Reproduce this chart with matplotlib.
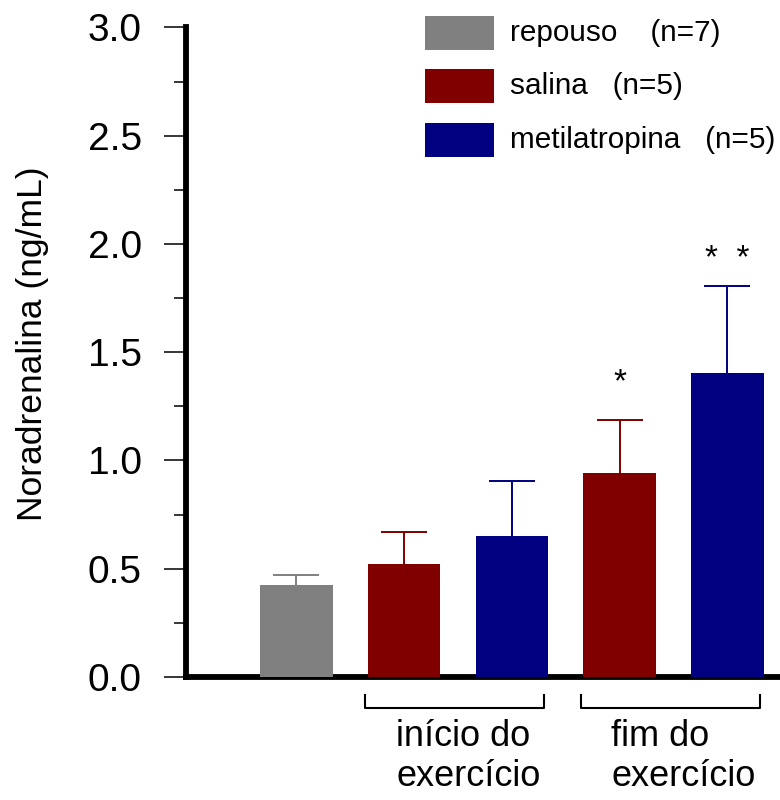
import numpy as np
import matplotlib
matplotlib.use('Agg')
import matplotlib.pyplot as plt
from matplotlib.patches import Rectangle
from matplotlib.ticker import MultipleLocator, FormatStrFormatter

# groups shown in the legend
groups = ['repouso', 'salina', 'metilatropina']
group_n = [7, 5, 5]
group_gap = ['    ', '   ', '   ']
group_colors = ['#808080', '#800000', '#000080']

# one entry per bar
bar_group = [0, 1, 2, 1, 2]
means = [0.425, 0.524, 0.652, 0.943, 1.405]
sems = [0.048, 0.145, 0.253, 0.245, 0.403]
stars = ['', '', '', '*', '*  *']
star_gap = [0, 0, 0, 0.10, 0.05]

phases = ['início do\nexercício', 'fim do\nexercício']
phase_bars = [(1, 2), (3, 4)]

plt.rcParams['font.family'] = ['Liberation Sans', 'DejaVu Sans']

W, H = 780, 800
fig = plt.figure(figsize=(W / 100, H / 100), dpi=100)
ax = fig.add_axes([186 / W, 1 - 677 / H, 1 - 186 / W, (677 - 27.4) / H])

x = np.arange(len(means))
colors = [group_colors[g] for g in bar_group]
ax.bar(x, means, width=0.674, color=colors, zorder=3)
for xi, m, e, c in zip(x, means, sems, colors):
    ax.errorbar(xi, m, yerr=e, fmt='none', ecolor=c, elinewidth=1.4,
                capsize=16.5, capthick=1.4, zorder=2)

for xi, m, e, s, g in zip(x, means, sems, stars, star_gap):
    if s:
        ax.text(xi, m + e + g, s, ha='center', va='bottom', fontsize=24)

ax.set_xlim(-1.025, 4.49)
ax.set_ylim(0, 3.0)
ax.set_xticks([])
ax.yaxis.set_major_locator(MultipleLocator(0.5))
ax.yaxis.set_minor_locator(MultipleLocator(0.25))
ax.yaxis.set_major_formatter(FormatStrFormatter('%.1f'))
ax.tick_params(axis='y', which='major', length=15.8, width=1.1, pad=16,
               labelsize=28)
ax.tick_params(axis='y', which='minor', length=8.6, width=1.1)

for side in ['top', 'right']:
    ax.spines[side].set_visible(False)
for side in ['left', 'bottom']:
    ax.spines[side].set_linewidth(4.2)

# brackets under the exercise bars
for (a, b), label in zip(phase_bars, phases):
    l, r = a - 0.36, b + 0.30
    ax.plot([l, l, r, r], [-0.083, -0.145, -0.145, -0.083], color='k',
            lw=1.5, clip_on=False)
    ax.text(a - 0.075, -0.194, label, ha='left', va='top', fontsize=26,
            linespacing=1.2, clip_on=False)

fig.text(33 / W, 1 - 344 / H, 'Noradrenalina (ng/mL)', rotation=90,
         ha='center', va='center', fontsize=25.5)

# legend drawn by hand: coloured block + label
for i, (g, n, gap, c) in enumerate(zip(groups, group_n, group_gap, group_colors)):
    cy = 33 + i * 53.3
    fig.add_artist(Rectangle((425 / W, 1 - (cy + 17) / H), 69 / W, 34 / H,
                             facecolor=c, edgecolor='none',
                             transform=fig.transFigure))
    fig.text(510 / W, 1 - cy / H, f'{g}{gap}(n={n})', ha='left',
             va='center', fontsize=21.4)

fig.savefig('out.png', dpi=100)
